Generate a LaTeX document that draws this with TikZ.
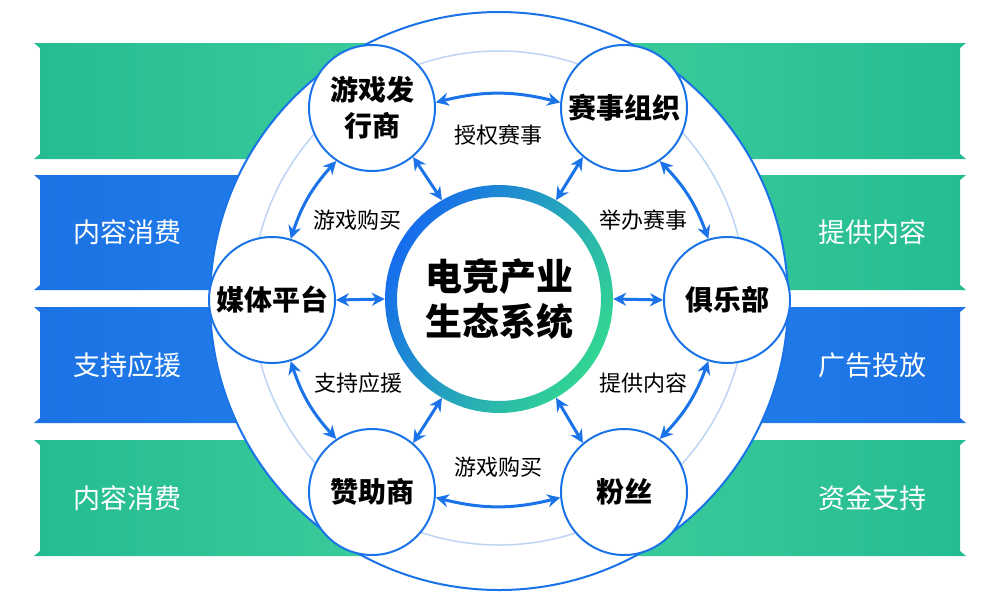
\documentclass[tikz,border=0pt]{standalone}
\usepackage{fontspec}
\setmainfont{Noto Sans CJK SC}
\usepackage{tikz}
\usetikzlibrary{arrows.meta, positioning, calc}
\definecolor{ringblue}{RGB}{26, 115, 232}
\definecolor{lightring}{RGB}{190, 212, 245}
\definecolor{bandgreen}{RGB}{36, 188, 146}
\definecolor{bandgreenlt}{RGB}{66, 208, 158}
\definecolor{bandblue}{RGB}{28, 114, 228}
\definecolor{bandbluelt}{RGB}{36, 134, 238}
\definecolor{hubblue}{RGB}{22, 108, 236}
\definecolor{hubgreen}{RGB}{50, 214, 146}

\begin{document}
\begin{tikzpicture}[x=1pt, y=-1pt, >={Stealth[length=13pt, width=13pt]},
  member/.style={circle, draw=ringblue, line width=2pt, fill=white,
    minimum size=126pt, inner sep=0pt, align=center,
    font=\fontsize{28}{36}\selectfont\bfseries},
  link/.style={<->, ringblue, line width=3pt},
  tag/.style={font=\fontsize{22}{26}\selectfont},
  bandtext/.style={white, font=\fontsize{27}{32}\selectfont}]
  \useasboundingbox[fill=white] (0,0) rectangle (1000,600);

  % side bands
  \foreach \a/\b/\c/\d in {43/159/bandgreen/bandgreenlt, 175/290/bandblue/bandbluelt,
                           307/423/bandblue/bandbluelt, 440/556/bandgreen/bandgreenlt}{
    \shade[left color=\c, right color=\d]
      (34,\a) -- (40,\a+5) -- (40,\b-5) -- (34,\b) -- (500,\b) -- (500,\a) -- cycle;
  }
  \foreach \a/\b/\c/\d in {43/159/bandgreen/bandgreenlt, 175/290/bandgreen/bandgreenlt,
                           307/423/bandblue/bandbluelt, 440/556/bandgreen/bandgreenlt}{
    \shade[left color=\d, right color=\c]
      (966,\a) -- (960,\a+5) -- (960,\b-5) -- (966,\b) -- (500,\b) -- (500,\a) -- cycle;
  }
  \node[bandtext] (lt2) at (127,232) {内容消费};
  \node[bandtext] (lt3) at (127,365) {支持应援};
  \node[bandtext] (lt4) at (127,498) {内容消费};
  \node[bandtext] (rt2) at (872,232) {提供内容};
  \node[bandtext] (rt3) at (872,365) {广告投放};
  \node[bandtext] (rt4) at (872,498) {资金支持};

  % big disc and light ring
  \coordinate (c) at (499,301);
  \draw[ringblue, line width=2pt, fill=white] (c) circle [radius=289];
  \draw[lightring, line width=1.5pt] (499,298) circle [radius=247];

  % hub
  \node (hub) [circle, minimum size=228pt, inner sep=0pt, align=center,
    font=\fontsize{37}{45}\selectfont\bfseries] at (499,299) {电竞产业\\生态系统};
  \shade[left color=hubblue, right color=hubgreen, shading angle=60, even odd rule]
    (hub.center) circle [radius=114] (hub.center) circle [radius=102];

  % members
  \node[member] (pub)   at (372,108) {游戏发\\行商};
  \node[member] (org)   at (624,108) {赛事组织};
  \node[member] (media) at (272,300) {媒体平台};
  \node[member] (club)  at (727,300) {俱乐部};
  \node[member] (spon)  at (372,492) {赞助商};
  \node[member] (fans)  at (624,492) {粉丝};

  % links
  \draw[link] (pub.-50)  -- (hub.120);
  \draw[link] (org.-130) -- (hub.60);
  \draw[link] (media.0)  -- (hub.180);
  \draw[link] (club.180) -- (hub.0);
  \draw[link] (spon.50)  -- (hub.-120);
  \draw[link] (fans.130) -- (hub.-60);
  \draw[link] (pub.5) to[bend left=14] (org.175);
  \draw[link] (spon.-5) to[bend right=14] (fans.-175);
  \draw[link] (pub.-124) to[bend right=12] (media.73);
  \draw[link] (media.-73) to[bend right=12] (spon.124);
  \draw[link] (org.-56) to[bend left=12] (club.107);
  \draw[link] (club.-107) to[bend left=12] (fans.56);

  \node[tag] (l1) at (498,135) {授权赛事};
  \node[tag] (l2) at (357,220) {游戏购买};
  \node[tag] (l3) at (643,220) {举办赛事};
  \node[tag] (l4) at (358,383) {支持应援};
  \node[tag] (l5) at (643,383) {提供内容};
  \node[tag] (l6) at (498,467) {游戏购买};
\end{tikzpicture}
\end{document}
